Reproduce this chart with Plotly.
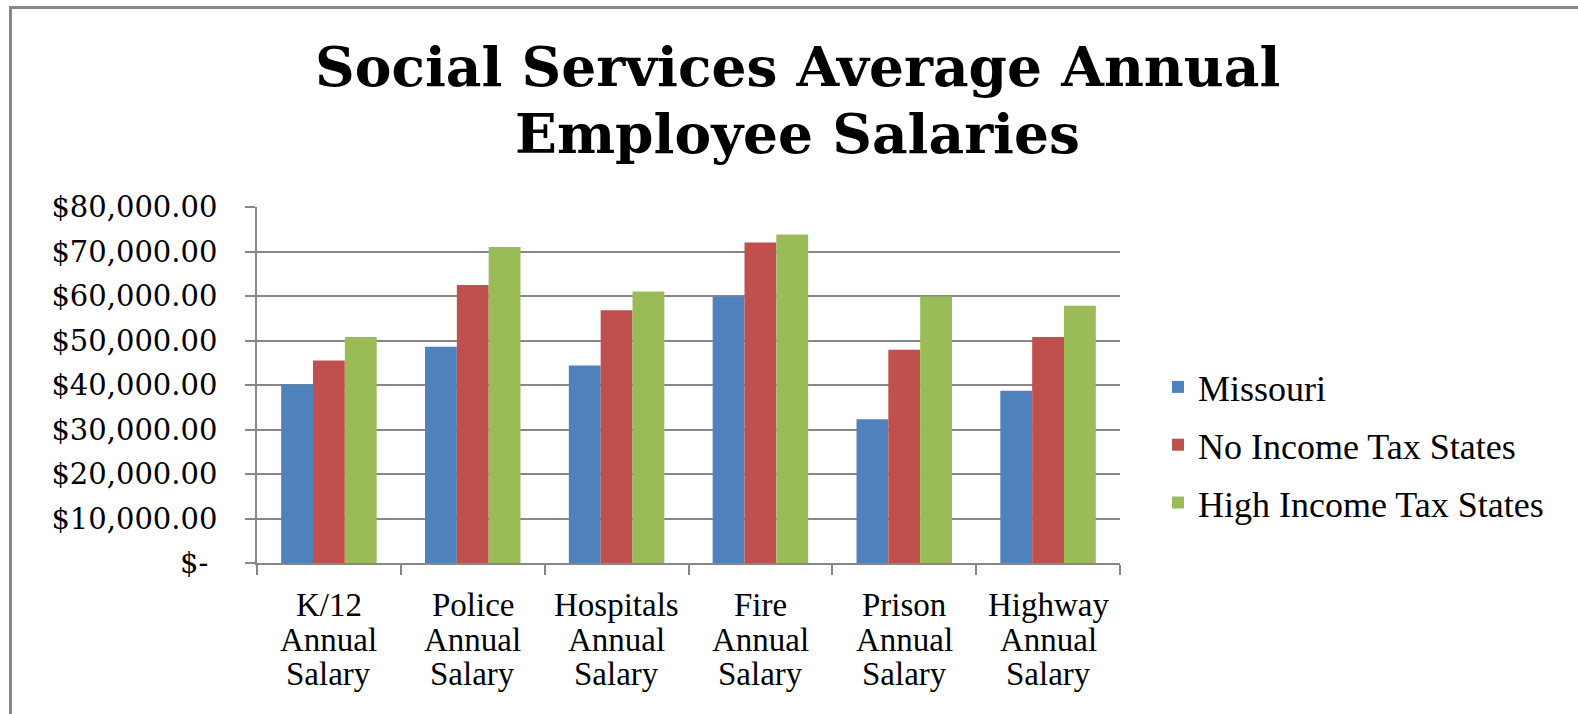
import plotly.graph_objects as go

# Chart data
categories = [
    "K/12 Annual Salary",
    "Police Annual Salary",
    "Hospitals Annual Salary",
    "Fire Annual Salary",
    "Prison Annual Salary",
    "Highway Annual Salary",
]
series_names = ["Missouri", "No Income Tax States", "High Income Tax States"]
missouri = [40100, 48600, 44400, 59900, 32300, 38700]
no_income_tax = [45500, 62500, 56800, 72000, 47900, 50800]
high_income_tax = [50800, 71000, 61000, 73800, 59900, 57800]
series_values = [missouri, no_income_tax, high_income_tax]
series_colors = ["#4F81BD", "#C0504D", "#9BBB59"]

y_tick_values = [0, 10000, 20000, 30000, 40000, 50000, 60000, 70000, 80000]
y_tick_labels = ["$-\u00a0", "$10,000.00", "$20,000.00", "$30,000.00", "$40,000.00",
                 "$50,000.00", "$60,000.00", "$70,000.00", "$80,000.00"]

title_lines = ["Social Services Average Annual", "Employee Salaries"]

# Canvas and plot-area geometry (pixels)
W, H = 1578, 714
L, R, T, B = 257, 458, 207, 151
PW, PH = W - L - R, H - T - B


def px_x(px):
    return (px - L) / PW


def px_y(py):
    return (H - B - py) / PH


GRID = "#878787"
SERIF = "Liberation Serif"

fig = go.Figure()
for name, vals, color in zip(series_names, series_values, series_colors):
    fig.add_trace(go.Bar(
        x=categories, y=vals, name=name, legendgroup=name,
        marker=dict(color=color, line=dict(width=0)),
    ))

annotations = []
# Two-line chart title
for text, cy in zip(title_lines, [67, 133]):
    annotations.append(dict(
        text=f"<b>{text}</b>", xref="paper", yref="paper",
        x=px_x(797), y=px_y(cy), xanchor="center", yanchor="middle",
        showarrow=False, font=dict(family="DejaVu Serif", size=55, color="#000000"),
    ))

# Category labels, one word per line beneath each group
line_centers = [605, 639.5, 674]
for cat in categories:
    for word, cy in zip(cat.split(" "), line_centers):
        annotations.append(dict(
            text=word, xref="x", yref="paper", x=cat, y=px_y(cy),
            xanchor="center", yanchor="middle", showarrow=False,
            font=dict(family=SERIF, size=33, color="#000000"),
        ))

# Outer chart frame (top and left edges visible)
shapes = [dict(
    type="rect", xref="paper", yref="paper",
    x0=px_x(10.5), x1=px_x(1700), y0=px_y(800), y1=px_y(7.5),
    line=dict(color="#878787", width=3), fillcolor="rgba(0,0,0,0)", layer="above",
)]

fig.update_layout(
    width=W, height=H,
    margin=dict(l=L, r=R, t=T, b=B, autoexpand=False),
    paper_bgcolor="#FFFFFF", plot_bgcolor="#FFFFFF",
    barmode="group", bargap=0.336, bargroupgap=0,
    showlegend=True,
    legend=dict(
        xref="container", yref="container",
        x=1158 / W, y=1 - 445 / H, xanchor="left", yanchor="middle",
        font=dict(family=SERIF, size=36, color="#000000"),
        tracegroupgap=8, traceorder="grouped",
        bgcolor="rgba(0,0,0,0)",
    ),
    xaxis=dict(
        showticklabels=False, tickson="boundaries", ticks="outside", ticklen=10,
        tickcolor=GRID, tickwidth=1.5, showline=True, linecolor=GRID, linewidth=1.5,
        showgrid=False, zeroline=False,
    ),
    yaxis=dict(
        range=[0, 80000], tickvals=y_tick_values, ticktext=y_tick_labels,
        ticks="outside", ticklen=10, tickcolor=GRID, tickwidth=1.5,
        showline=True, linecolor=GRID, linewidth=1.5,
        showgrid=True, gridcolor=GRID, gridwidth=1.5, zeroline=False,
        ticklabelstandoff=22,
        tickfont=dict(family="DejaVu Serif", size=29, color="#000000"),
    ),
    annotations=annotations,
    shapes=shapes,
)

fig.write_html("out.html")
